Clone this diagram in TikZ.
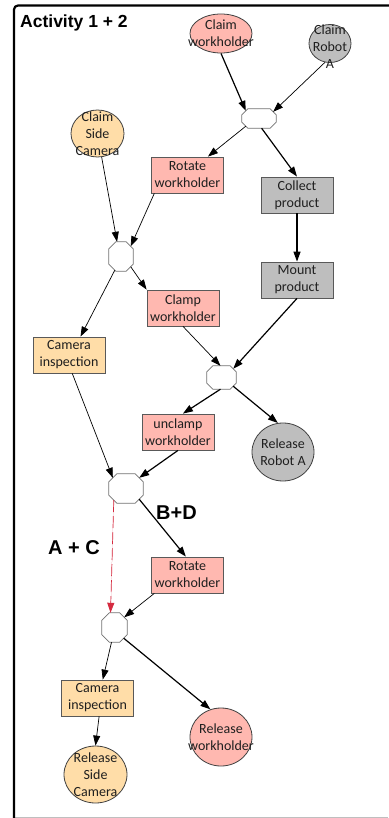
\documentclass[tikz,border=0pt]{standalone}
\usepackage{fontspec}
\setmainfont{Carlito}
\newfontfamily\lblfont{Liberation Sans}
\usetikzlibrary{arrows.meta,shapes.geometric,calc}
\definecolor{pinkfill}{HTML}{FFB8B0}
\definecolor{orangefill}{HTML}{FFDDA8}
\definecolor{grayfill}{HTML}{BEBEBE}
\definecolor{dashred}{HTML}{D52B40}
% octagon outline inside a junction node: #1 node name, #2 chamfer size
\newcommand\drawoct[2]{%
  \draw[octline] ($(#1.north west)+(#2,0)$) -- ($(#1.north east)+(-#2,0)$)
    -- ($(#1.north east)+(0,#2)$) -- ($(#1.south east)+(0,-#2)$)
    -- ($(#1.south east)+(-#2,0)$) -- ($(#1.south west)+(#2,0)$)
    -- ($(#1.south west)+(0,-#2)$) -- ($(#1.north west)+(0,#2)$) -- cycle;}
\begin{document}
\begin{tikzpicture}[x=1pt,y=-1pt,
  txt/.style={font=\fontsize{14}{17}\selectfont, text=black!88, align=center},
  task/.style={rectangle, draw=black!65, line width=0.8pt, minimum width=72pt,
    minimum height=36pt, inner sep=1pt, txt},
  res/.style={ellipse, draw=black!75, line width=0.8pt, inner sep=0pt},
  junc/.style={rectangle, inner sep=0pt},
  octline/.style={draw=black!55, fill=white, line width=0.8pt},
  flow/.style={-{Triangle[length=10pt,width=7pt]}, line width=0.7pt},
  flowb/.style={flow, line width=1.2pt},
  dashflow/.style={-{Triangle[length=10pt,width=7pt]}, draw=dashred, fill=dashred,
    line width=0.7pt, dash pattern=on 12pt off 4pt},
  bigtxt/.style={font=\lblfont\bfseries\fontsize{20}{24}\selectfont, inner sep=0pt, anchor=base west},
]
\useasboundingbox (0,0) rectangle (388,818);

% frame
\draw[black!25, line width=0.8pt] (14,817) -- (388,817);
\draw[line width=2.2pt, rounded corners=4pt] (14,818) -- (14,5.5) -- (392,5.5);

\node[font=\lblfont\bfseries\fontsize{17.5}{20}\selectfont, inner sep=0pt, anchor=base west]
  (title) at (20,28) {Activity 1 + 2};

% resources claimed and released
\node[res, fill=pinkfill, minimum width=62pt, minimum height=39pt,
  label={[txt]center:Claim\\workholder}] (cw) at (221,33.5) {};
\node[res, fill=grayfill, minimum width=42pt, minimum height=38pt,
  label={[txt, yshift=-3.5pt]center:Claim\\Robot\\A}] (cr) at (330,43.5) {};
\node[res, fill=orangefill, minimum width=53pt, minimum height=47pt,
  label={[txt]center:Claim\\Side\\Camera}] (csc) at (97.5,133.5) {};
\node[res, fill=grayfill, minimum width=62pt, minimum height=58pt,
  label={[txt]center:Release\\Robot A}] (rra) at (283,452) {};
\node[res, fill=pinkfill, minimum width=62pt, minimum height=58pt,
  label={[txt]center:Release\\workholder}] (relwh) at (221,737) {};
\node[res, fill=orangefill, minimum width=63pt, minimum height=57pt,
  label={[txt]center:Release\\Side\\Camera}] (rsc) at (95.5,774.5) {};

% tasks
\node[task, fill=pinkfill] (rw1) at (187.5,175) {Rotate\\workholder};
\node[task, fill=grayfill] (cp) at (297,195) {Collect\\product};
\node[task, fill=grayfill] (mp) at (297,280) {Mount\\product};
\node[task, fill=pinkfill] (clamp) at (183,308) {Clamp\\workholder};
\node[task, fill=orangefill] (ci1) at (69,355) {Camera\\inspection};
\node[task, fill=pinkfill] (uc) at (178,432) {unclamp\\workholder};
\node[task, fill=pinkfill] (rw2) at (187.5,575) {Rotate\\workholder};
\node[task, fill=orangefill] (ci2) at (97.5,698) {Camera\\inspection};

% junctions
\node[junc, minimum width=34pt, minimum height=19pt] (o1) at (259,118.5) {};
\node[junc, minimum width=24pt, minimum height=29pt] (o2) at (121,256.5) {};
\node[junc, minimum width=29pt, minimum height=23pt] (o3) at (221.5,377.5) {};
\node[junc, minimum width=34pt, minimum height=29pt] (o4) at (126,488.5) {};
\node[junc, minimum width=25pt, minimum height=29pt] (o5) at (114.5,627.5) {};
\drawoct{o1}{6}
\drawoct{o2}{7}
\drawoct{o3}{6}
\drawoct{o4}{8}
\drawoct{o5}{7.5}

% path labels
\node[bigtxt] (bd) at (156,519) {B+D};
\node[bigtxt] (ac) at (48,554) {A + C};

% flows
\draw[flowb] (cw.south) -- ($(o1.north west)+(4,2)$);
\draw[flow] (cr.255) -- ($(o1.north east)+(-3,3)$);
\draw[flow] ($(o1.south west)+(4,-2)$) -- (rw1.42);
\draw[flowb] (o1.285) -- (cp.north);
\draw[flow] (csc.280) -- (o2.105);
\draw[flow] (rw1.209) -- ($(o2.north east)+(-2.5,4.5)$);
\draw[flow] ($(o2.south east)+(-2.5,-4.5)$) -- (clamp.north west);
\draw[flow] ($(o2.south west)+(6,-1)$) -- (ci1.58);
\draw[flowb] (cp.south) -- (mp.north);
\draw[flowb] (mp.south) -- ($(o3.north east)+(-3,3)$);
\draw[flow] (clamp.south) -- (o3.95);
\draw[flowb] (o3.265) -- (uc.75);
\draw[flowb] ($(o3.south east)+(-3,-3)$) -- (rra.100);
\draw[flow] (ci1.280) -- ($(o4.north west)+(4,4)$);
\draw[flowb] (uc.south) -- ($(o4.north east)+(-4,4)$);
\draw[flowb] ($(o4.south east)+(-4,-4)$) -- (rw2.95);
\draw[dashflow] ($(o4.south west)+(5,-3)$) -- ($(o5.north)+(-4,0)$);
\draw[flow] (rw2.209) -- ($(o5.north east)+(-3,4.5)$);
\draw[flow] ($(o5.south)+(-3,0)$) -- (ci2.74);
\draw[flowb] ($(o5.south east)+(-3.5,-4)$) -- (relwh.111);
\draw[flow] (ci2.275) -- (rsc.north);
\end{tikzpicture}
\end{document}
